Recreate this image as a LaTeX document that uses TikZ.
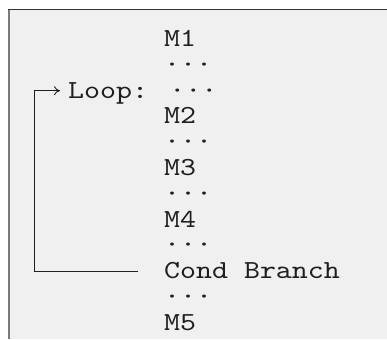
\documentclass[tikz,border=0pt]{standalone}
\usepackage{fontspec}
\newfontfamily\codefont{lmmono10-regular.otf}[FakeStretch=1.17]
\usetikzlibrary{arrows.meta}
\usetikzlibrary{positioning}

\definecolor{panel}{HTML}{F0F0F0}
\definecolor{edgetop}{HTML}{333333}
\definecolor{edgeleft}{HTML}{7A7A7A}
\definecolor{ink}{HTML}{1E1E1E}

\tikzset{
  code/.style={font=\codefont\fontsize{26}{26}\selectfont,text=ink,inner sep=0pt,
    anchor=base west,text height=15pt,text depth=0pt},
  backarrow/.style={draw=ink,line width=0.9pt,-{To[length=6pt,width=9pt]}}
}

\begin{document}
\begin{tikzpicture}[x=1pt,y=-1pt]
\useasboundingbox (0,0) rectangle (387,339);
\fill[panel] (8,9) rectangle (387,339);
\draw[edgeleft,line width=2pt] (9,9) -- (9,339);
\draw[edgetop,line width=1.5pt] (8,9.75) -- (387,9.75);

% listing, one line each
\node[code] (m1) at (164,46.7) {M1};
\node[code] (d1) at (164,72.5) {···};
\node[code] (loop) at (68,98.2) {Loop: ···};
\node[code] (m2) at (164,124) {M2};
\node[code] (d2) at (164,149.7) {···};
\node[code] (m3) at (164,175.5) {M3};
\node[code] (d3) at (164,201.3) {···};
\node[code] (m4) at (164,227) {M4};
\node[code] (d4) at (164,252.8) {···};
\node[code] (cond) at (164,278.5) {Cond Branch};
\node[code] (d5) at (164,304.3) {···};
\node[code] (m5) at (164,330.1) {M5};

% jump back to the loop head
\coordinate (corner) at (34.5,0);
\draw[backarrow] ([xshift=-26pt]cond.west) -| (corner |- loop.west) -- ([xshift=-8pt]loop.west);

\end{tikzpicture}
\end{document}
